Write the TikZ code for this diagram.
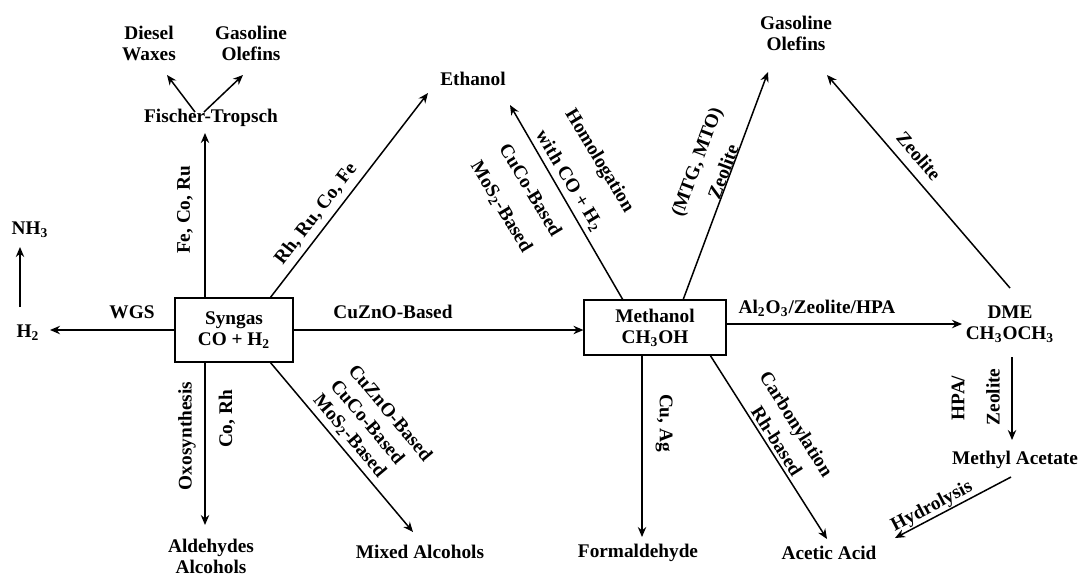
\documentclass[tikz,border=0pt]{standalone}
\usepackage{fontspec}
\setmainfont{Liberation Serif}
\usetikzlibrary{arrows.meta}
\begin{document}
\begin{tikzpicture}[x=0.5pt,y=-0.5pt,
  every node/.style={font=\fontsize{9.65}{10.5}\selectfont\bfseries, inner sep=1pt, align=center},
  box/.style={draw, line width=0.55pt},
  arr/.style={line width=0.75pt, -{Stealth[length=5pt,width=4.2pt]}}]
\useasboundingbox (0,0) rectangle (1080,575);

% boxes
\node[box, minimum width=59pt, minimum height=32pt] (syn) at (234,330) {Syngas\\CO + H\textsubscript{2}};
\node[box, minimum width=71pt, minimum height=27.5pt] (meth) at (655,327.5) {Methanol\\CH\textsubscript{3}OH};

% product nodes
\node (diesel) at (149,43) {Diesel\\Waxes};
\node (gas1) at (251,43) {Gasoline\\Olefins};
\node (ft) at (211,118) {Fischer-Tropsch};
\node (eth) at (473,79) {Ethanol};
\node (gas2) at (796,33) {Gasoline\\Olefins};
\node (nh3) at (30,230) {NH\textsubscript{3}};
\node (h2) at (28,333) {H\textsubscript{2}};
\node (dme) at (1010,324) {DME\\CH\textsubscript{3}OCH\textsubscript{3}};
\node (macet) at (1015,460) {Methyl Acetate};
\node (acet) at (829,553) {Acetic Acid};
\node (form) at (638,553) {Formaldehyde};
\node (mixed) at (420,552) {Mixed Alcohols};
\node (ald) at (211,556) {Aldehydes\\Alcohols};

% connector end points
\coordinate (synN) at (205,298);
\coordinate (ftS) at (205,133);
\coordinate (ftL) at (195,112);
\coordinate (dieselS) at (167,75);
\coordinate (ftR) at (204,112);
\coordinate (gas1S) at (243,75);
\coordinate (h2N) at (20,307);
\coordinate (nh3S) at (20,247);
\coordinate (h2E) at (50,330);
\coordinate (synNE) at (270,298);
\coordinate (ethSW) at (428,93);
\coordinate (methNW) at (623,300);
\coordinate (ethSE) at (510,105);
\coordinate (methNE) at (683,300);
\coordinate (gas2SW) at (768,72);
\coordinate (methE) at (727,324);
\coordinate (dmeW) at (962,324);
\coordinate (dmeN) at (1010,288);
\coordinate (gas2SE) at (827,75);
\coordinate (dmeS) at (1012,357);
\coordinate (macetN) at (1012,440);
\coordinate (macetS) at (1011,477);
\coordinate (acetE) at (895,538);
\coordinate (methSE) at (710,355);
\coordinate (acetN) at (827,539);
\coordinate (methS) at (642,355);
\coordinate (formN) at (642,537);
\coordinate (synSE) at (270,362);
\coordinate (mixedN) at (413,532);
\coordinate (synS) at (205,362);
\coordinate (aldN) at (205,525);

% connectors
\draw[arr] (synN) -- (ftS);
\draw[arr] (ftL) -- (dieselS);
\draw[arr] (ftR) -- (gas1S);
\draw[arr] (h2N) -- (nh3S);
\draw[arr] (syn.west) -- (h2E);
\draw[arr] (synNE) -- (ethSW);
\draw[arr] (syn.east) -- (syn.east -| meth.west);
\draw[arr] (methNW) -- (ethSE);
\draw[arr] (methNE) -- (gas2SW);
\draw[arr] (methE) -- (dmeW);
\draw[arr] (dmeN) -- (gas2SE);
\draw[arr] (dmeS) -- (macetN);
\draw[arr] (macetS) -- (acetE);
\draw[arr] (methSE) -- (acetN);
\draw[arr] (methS) -- (formN);
\draw[arr] (synSE) -- (mixedN);
\draw[arr] (synS) -- (aldN);

% labels
\node (lwgs) at (132,312) {WGS};
\node (lcuzno) at (393,312) {CuZnO-Based};
\node (lal) at (817,308) {Al\textsubscript{2}O\textsubscript{3}/Zeolite/HPA};
\node[rotate=90] (lfe) at (185,210) {Fe, Co, Ru};
\node[rotate=52.4] (lrh) at (316,214) {Rh, Ru, Co, Fe};
\node[rotate=-59] (lhom) at (599,161) {Homologation};
\node[rotate=-59] (lwith) at (569,181) {with CO + H\textsubscript{2}};
\node[rotate=-59] (lcuco1) at (531,190) {CuCo-Based};
\node[rotate=-59] (lmos1) at (501,207) {MoS\textsubscript{2}-Based};
\node[rotate=69.6] (lmtg) at (698,162) {(MTG, MTO)};
\node[rotate=69.6] (lzeo1) at (723,172) {Zeolite};
\node[rotate=-49.3] (lzeo2) at (919,156) {Zeolite};
\node[rotate=90] (lhpa) at (958,398) {HPA/};
\node[rotate=90] (lzeo3) at (993,397) {Zeolite};
\node[rotate=27.7] (lhyd) at (932,507) {Hydrolysis};
\node[rotate=-57.5] (lcarb) at (795,425) {Carbonylation};
\node[rotate=-57.5] (lrhb) at (777,441) {Rh-based};
\node[rotate=-90] (lcuag) at (664,423) {Cu, Ag};
\node[rotate=-50, anchor=west] (lcuzno2) at (351,365) {CuZnO-Based};
\node[rotate=-50, anchor=west] (lcuco2) at (333,380) {CuCo-Based};
\node[rotate=-50, anchor=west] (lmos2) at (315,395) {MoS\textsubscript{2}-Based};
\node[rotate=90] (loxo) at (187,436) {Oxosynthesis};
\node[rotate=90] (lcorh) at (227,419) {Co, Rh};
\end{tikzpicture}
\end{document}
